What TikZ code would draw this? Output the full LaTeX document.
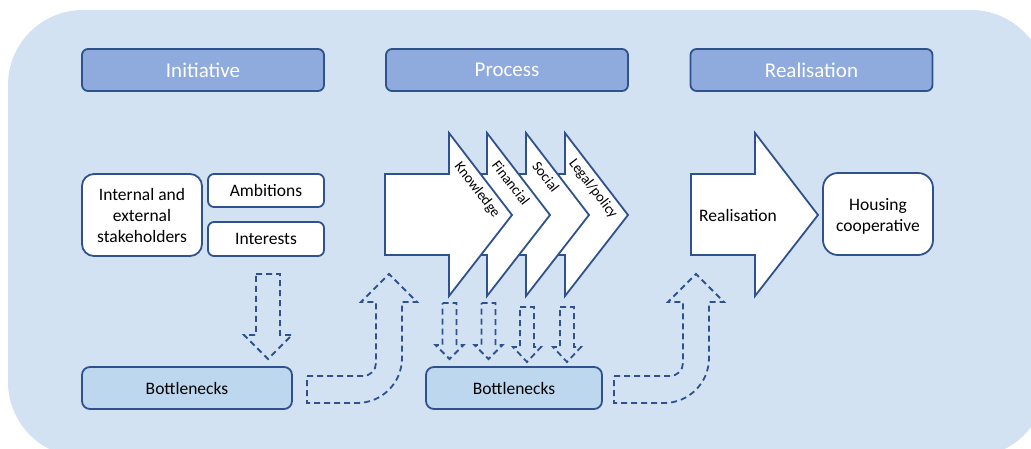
\documentclass[tikz,border=0pt]{standalone}
\usepackage{fontspec}
\setmainfont{Carlito}
\definecolor{bgblue}{HTML}{D2E2F2}
\definecolor{headblue}{HTML}{8FAADC}
\definecolor{neckblue}{HTML}{BDD7EE}
\definecolor{edge}{HTML}{2F528F}
\tikzset{
  body/.style={font=\fontsize{17.5}{21}\selectfont, align=center},
  headbox/.style={draw=edge, fill=headblue, line width=1.8pt, rounded corners=6pt,
    text=white, font=\fontsize{21}{25}\selectfont, minimum width=242pt,
    minimum height=42pt, inner sep=0pt},
  whitebox/.style={body, draw=edge, fill=white, line width=1.8pt, inner sep=0pt},
  neckbox/.style={body, draw=edge, fill=neckblue, line width=1.8pt,
    rounded corners=8pt, minimum height=42pt, inner sep=0pt},
  blockarrow/.style={draw=edge, fill=white, line width=1.8pt, line join=miter},
  dasharrow/.style={draw=edge, line width=1.8pt, dash pattern=on 6pt off 4pt},
  barlabel/.style={font=\fontsize{14.5}{16}\selectfont, rotate=-52.5, inner sep=0pt},
}
% block arrow with body 385..449 and head 449..512, shifted by #1
\newcommand\blockarr[1]{%
  \draw[blockarrow] (385+#1,174) -- (449+#1,174) -- (449+#1,133) -- (512+#1,215)
    -- (449+#1,296) -- (449+#1,255) -- (385+#1,255) -- cycle;}
% dashed downward block arrow: centre x, top, shaft half width, head y, head half width, tip y
\newcommand\dnarr[6]{%
  \draw[dasharrow] (#1-#3,#2) -- (#1+#3,#2) -- (#1+#3,#4) -- (#1+#5,#4) -- (#1,#6)
    -- (#1-#5,#4) -- (#1-#3,#4) -- cycle;}
% dashed bent (right then up) arrow
\newcommand\bentarr{%
  \draw[dasharrow] (307,376) -- (363,376) .. controls (370.2,376) and (376,370.2) .. (376,363)
    -- (376,302) -- (361,302) -- (389,274) -- (417,302) -- (402,302) -- (402,358)
    .. controls (402,382.9) and (381.9,403) .. (357,403) -- (307,403) -- cycle;}
\begin{document}
\begin{tikzpicture}[x=1pt,y=-1pt]
\useasboundingbox (0,0) rectangle (1031,448);
\clip (0,0) rectangle (1031,448);
% panel
\fill[bgblue, rounded corners=75pt] (8,10) rectangle (1046,457);

% phase headers
\node[headbox] (hinit) at (203,70) {Initiative};
\node[headbox] (hproc) at (507,70) {Process};
\node[headbox] (hreal) at (811.5,70) {Realisation};

% initiative boxes
\node[whitebox, rounded corners=12pt, minimum width=120pt, minimum height=82pt] (stake) at (142,215)
  {Internal and\\external\\stakeholders};
\node[whitebox, rounded corners=6pt, minimum width=116pt, minimum height=33pt] (amb) at (266,190.5) {Ambitions};
\node[whitebox, rounded corners=6pt, minimum width=116pt, minimum height=34pt] (int) at (266,239) {Interests};

% process chevrons, back to front
\blockarr{116}
\blockarr{77}
\blockarr{38}
\blockarr{0}
\node[barlabel] (lknow) at (477,190) {Knowledge};
\node[barlabel] (lfin) at (511,183) {Financial};
\node[barlabel] (lsoc) at (546,177) {Social};
\node[barlabel] (llegal) at (593,189) {Legal/policy};

% realisation arrow and outcome
\blockarr{306}
\node[body, anchor=west, inner sep=0pt] (lreal) at (699,215) {Realisation};
\node[whitebox, rounded corners=15pt, minimum width=110pt, minimum height=82pt] (coop) at (878,214) {};
\node[body] (coopt) at (878,216) {Housing\\cooperative};

% bottlenecks
\node[neckbox, minimum width=210pt] (neck1) at (187,388) {Bottlenecks};
\node[neckbox, minimum width=176pt] (neck2) at (514,388) {Bottlenecks};

% dashed arrows into the bottlenecks
\dnarr{268}{274}{12}{335}{24}{359}
\dnarr{449.5}{303}{7}{345}{14}{359}
\dnarr{488.5}{303}{7}{345}{14}{359}
\dnarr{527}{307}{7}{347}{14}{362}
\dnarr{567}{307}{7}{347}{14}{362}

% dashed arrows out of the bottlenecks
\bentarr
\begin{scope}[xshift=307pt]
\bentarr
\end{scope}
\end{tikzpicture}
\end{document}
